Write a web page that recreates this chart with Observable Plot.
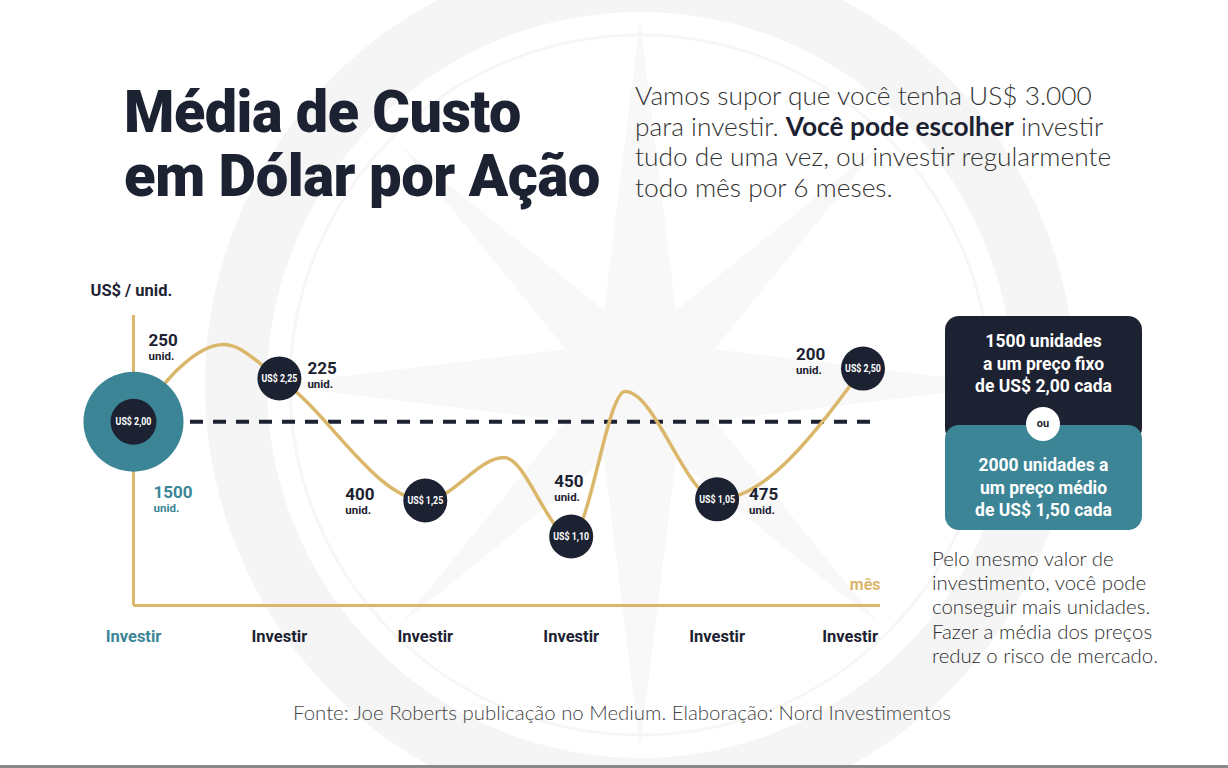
<!DOCTYPE html>
<html>
<head>
<meta charset="utf-8">
<script src="https://cdn.jsdelivr.net/npm/d3@7"></script>
<script src="https://cdn.jsdelivr.net/npm/@observablehq/plot@0.6"></script>
<style>
  html, body { margin: 0; padding: 0; background: #fff; }
  #page { position: relative; width: 1228px; height: 768px; overflow: hidden; background: #fff; }
  #wm { position: absolute; left: 0; top: 0; }
  .tline { position: absolute; left: 124px; font-family: Roboto, sans-serif; font-size: 60px; line-height: 64px; font-weight: 900;
           color: #1d2232; white-space: nowrap; transform-origin: 0 0; letter-spacing: -0.5px; }
  #intro { position: absolute; left: 635px; top: 80px; font-family: Lato, "Open Sans", sans-serif; font-weight: 300;
           font-size: 26.3px; line-height: 30.5px; color: #333; white-space: nowrap; }
  #intro b { font-weight: 700; color: #1d2232; }
  #chart { position: absolute; left: 0; top: 260px; }
  .box { position: absolute; left: 945px; width: 197px; border-radius: 14px; color: #fff; text-align: center;
         font-family: Roboto, sans-serif; font-weight: 700; font-size: 17.5px; line-height: 22.5px; box-sizing: border-box; }
  #boxTop { top: 316px; height: 126px; background: #1d2232; padding-top: 14px; }
  #boxBot { top: 425px; height: 105px; background: #3b8597; padding-top: 29px; }
  #ou { position: absolute; left: 1026px; top: 407px; width: 34px; height: 34px; border-radius: 50%; background: #fff;
        color: #1d2232; font-family: Roboto, sans-serif; font-size: 11px; font-weight: 700; line-height: 34px; text-align: center; }
  #note { position: absolute; left: 932px; top: 546px; font-family: Lato, "Open Sans", sans-serif; font-weight: 300;
          font-size: 20.4px; line-height: 24.2px; color: #2e2e2e; white-space: nowrap; }
  #foot { position: absolute; left: 0; width: 1244px; top: 700px; text-align: center; font-family: Lato, "Open Sans", sans-serif;
          font-weight: 300; font-size: 20.4px; color: #444; }
  #bottomline { position: absolute; left: 0; top: 765px; width: 1228px; height: 3px; background: #8a8a8a; }
</style>
</head>
<body>
<div id="page">
  <svg id="wm" width="1228" height="768">
    <circle cx="640" cy="385" r="404" fill="none" stroke="#f5f5f5" stroke-width="62"></circle>
    <circle cx="640" cy="385" r="350" fill="none" stroke="#f6f6f6" stroke-width="3"></circle>
    <polygon fill="#f8f8f8" points="640,20 680,345 1010,385 680,425 640,750 600,425 270,385 600,345"></polygon>
    <polygon fill="#f8f8f8" points="880,145 665,410 400,625 615,360"></polygon>
    <polygon fill="#f8f8f8" points="400,145 665,360 880,625 615,410"></polygon>
  </svg>
  <div class="tline" id="t1" style="top:80px" data-fit="397">Média de Custo</div>
  <div class="tline" id="t2" style="top:144px" data-fit="476">em Dólar por Ação</div>
  <div id="intro">Vamos supor que você tenha US$ 3.000<br>para investir. <b>Você pode escolher</b> investir<br>tudo de uma vez, ou investir regularmente<br>todo mês por 6 meses.</div>
  <div id="chart"></div>
  <div id="boxTop" class="box">1500 unidades<br>a um preço fixo<br>de US$ 2,00 cada</div>
  <div id="boxBot" class="box">2000 unidades a<br>um preço médio<br>de US$ 1,50 cada</div>
  <div id="ou">ou</div>
  <div id="note">Pelo mesmo valor de<br>investimento, você pode<br>conseguir mais unidades.<br>Fazer a média dos preços<br>reduz o risco de mercado.</div>
  <div id="foot">Fonte: Joe Roberts publicação no Medium. Elaboração: Nord Investimentos</div>
  <div id="bottomline"></div>
</div>
<script>
// ---- data ----
const months = [0, 1, 2, 3, 4, 5];
const prices = [2.00, 2.25, 1.25, 1.10, 1.05, 2.50];          // US$ per unit each month
const units = [250, 225, 400, 450, 475, 200];                  // units bought each month
const levels = [63.4, 78.3, 36.2, 23.8, 36.6, 81.7];           // drawn height of each point (0–100)
const curveMonths = [0, 0.62, 1, 2, 2.54, 3, 3.37, 4, 5];      // path of the price line
const curveLevels = [63.4, 90, 78.3, 36.2, 51, 23.8, 73.8, 36.6, 81.7];
const tickLabels = ["Investir", "Investir", "Investir", "Investir", "Investir", "Investir"];
const lumpUnits = 1500;
const lumpPrice = 2.00;
const axisLabelY = "US$ / unid.";
const axisLabelX = "mês";

// ---- styles ----
const dark = "#1d2232", teal = "#3b8597", gold = "#dbb76c";
const font = "Roboto, sans-serif";
const fmtPrice = p => "US$ " + p.toFixed(2).replace(".", ",");

const points = months.map((m, i) => ({m, level: levels[i], price: prices[i], units: units[i], first: i === 0}));
const curve = curveMonths.map((m, i) => ({m, level: curveLevels[i]}));
const ticks = months.map((m, i) => ({m, label: tickLabels[i], first: i === 0, last: i === months.length - 1}));
const lump = [{m: 0, level: levels[0], units: lumpUnits, price: lumpPrice}];

// label offsets (px) from each point: [dx, dy] for the number; "unid." sits below it
const offs = [[15, -81], [28, -10], [-80, -6], [-17, -55], [32, -5], [-67, -14]];

const labelMarks = [];
points.forEach((p, i) => {
  const [dx, dy] = offs[i];
  labelMarks.push(Plot.text([p], {x: "m", y: "level", text: d => String(d.units), dx, dy, textAnchor: "start",
    fontSize: 17, fontWeight: 700, fill: dark, fontFamily: font}));
  labelMarks.push(Plot.text([p], {x: "m", y: "level", text: () => "unid.", dx, dy: dy + 16, textAnchor: "start",
    fontSize: 11.5, fontWeight: 700, fill: dark, fontFamily: font}));
});

const chart = Plot.plot({
  width: 900,
  height: 400,
  marginLeft: 133,
  marginRight: 20,
  marginTop: 55,
  marginBottom: 55,
  style: {background: "transparent", overflow: "visible"},
  x: {domain: [0, 5.12], axis: null},
  y: {domain: [0, 100], axis: null},
  marks: [
    Plot.ruleX([0], {stroke: gold, strokeWidth: 3}),
    Plot.ruleY([0], {stroke: gold, strokeWidth: 3}),
    Plot.ruleY([levels[0]], {stroke: dark, strokeWidth: 4, strokeDasharray: "13,10", insetLeft: 57, insetRight: 4}),
    Plot.line(curve, {x: "m", y: "level", curve: "monotone-x", stroke: gold, strokeWidth: 3.5}),
    Plot.dot(lump, {x: "m", y: "level", r: 50, fill: teal}),
    Plot.dot(lump, {x: "m", y: "level", r: 23, fill: dark}),
    Plot.dot(points.slice(1), {x: "m", y: "level", r: 22, fill: dark}),
    Plot.text(points, {x: "m", y: "level", text: d => fmtPrice(d.price), fill: "#fff", fontSize: 10, fontWeight: 700,
      fontFamily: font, className: "narrow"}),
    ...labelMarks,
    Plot.text(lump, {x: "m", y: "level", text: d => String(d.units), dx: 20, dy: 71, textAnchor: "start",
      fontSize: 17, fontWeight: 700, fill: teal, fontFamily: font}),
    Plot.text(lump, {x: "m", y: "level", text: () => "unid.", dx: 20, dy: 87, textAnchor: "start",
      fontSize: 11.5, fontWeight: 700, fill: teal, fontFamily: font}),
    Plot.text(ticks.filter(d => !d.last), {x: "m", text: "label", frameAnchor: "bottom", lineAnchor: "middle", dy: 31,
      fontSize: 16.5, fontWeight: 700, fill: d => d.first ? teal : dark, fontFamily: font}),
    Plot.text(ticks.filter(d => d.last), {x: "m", text: "label", frameAnchor: "bottom", lineAnchor: "middle", dy: 31, dx: 15,
      textAnchor: "end", fontSize: 16.5, fontWeight: 700, fill: dark, fontFamily: font}),
    Plot.text([axisLabelY], {frameAnchor: "top-left", lineAnchor: "middle", dx: -43, dy: -25, textAnchor: "start", fontSize: 16.5,
      fontWeight: 700, fill: dark, fontFamily: font}),
    Plot.text([axisLabelX], {frameAnchor: "bottom-right", lineAnchor: "middle", dy: -21, textAnchor: "end", fontSize: 16,
      fontWeight: 700, fill: gold, fontFamily: font})
  ]
});
document.getElementById("chart").appendChild(chart);

// condense the price labels inside the circles (the original uses a condensed face)
chart.querySelectorAll("g.narrow text").forEach(t => {
  const w = t.getComputedTextLength();
  if (w > 0) { t.setAttribute("textLength", (w * 0.88).toFixed(1)); t.setAttribute("lengthAdjust", "spacingAndGlyphs"); }
});
// fit the title lines to the width they take in the original
document.querySelectorAll("[data-fit]").forEach(el => {
  const w = el.getBoundingClientRect().width;
  el.style.transform = `scaleX(${(+el.dataset.fit / w).toFixed(3)})`;
});
</script>
</body>
</html>
